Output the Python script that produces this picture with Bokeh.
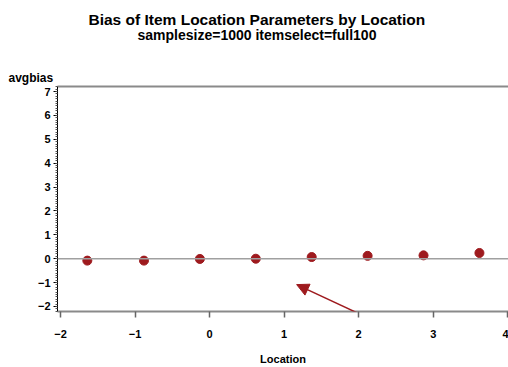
from bokeh.plotting import figure
from bokeh.models import Span, Arrow, NormalHead, FixedTicker, Range1d, Title, LinearAxis
from bokeh.embed import file_html
from bokeh.resources import INLINE

location = [-1.64, -0.88, -0.13, 0.62, 1.37, 2.12, 2.87, 3.62]
avgbias = [-0.08, -0.08, -0.01, 0.0, 0.07, 0.12, 0.14, 0.24]
x_ticks = [-2, -1, 0, 1, 2, 3, 4]
y_ticks = [-2, -1, 0, 1, 2, 3, 4, 5, 6, 7]

title_text = "Bias of Item Location Parameters by Location"
subtitle_text = "samplesize=1000 itemselect=full100"
y_label = "avgbias"
x_label = "Location"

FONT = "Liberation Sans"
RED = "#9e1a1e"

p = figure(width=508, height=367, output_backend="svg", toolbar_location=None,
           x_range=Range1d(-2.04, 4.01), y_range=Range1d(-2.21, 7.21),
           min_border_left=57, min_border_right=0, min_border_top=86, min_border_bottom=55,
           title=None)
p.background_fill_color = "white"
p.border_fill_color = "white"
p.grid.visible = False
p.outline_line_color = None

xa = p.below[0]
ya = p.left[0]

# top border as an axis line
top = LinearAxis(ticker=FixedTicker(ticks=[]), axis_line_color="#8a8a8a", axis_line_width=2,
                 major_tick_line_color=None, minor_tick_line_color=None,
                 major_label_text_font_size="0px", major_label_standoff=0,
                 major_tick_out=0, major_tick_in=0)
p.add_layout(top, "above")

# y axis
ya.ticker = FixedTicker(ticks=y_ticks, minor_ticks=[round(-2.2 + 0.1 * i, 2) for i in range(95)])
ya.axis_line_color = "black"
ya.axis_line_width = 1
ya.major_tick_out = 4
ya.major_tick_in = 0
ya.minor_tick_out = 2
ya.minor_tick_in = 0
ya.major_tick_line_color = "black"
ya.minor_tick_line_color = "#555555"
ya.major_label_text_font = FONT
ya.major_label_text_font_style = "bold"
ya.major_label_text_font_size = "11px"
ya.major_label_text_color = "black"
ya.major_label_standoff = 3

# x axis
xa.ticker = FixedTicker(ticks=x_ticks, minor_ticks=[])
xa.axis_line_color = "#8a8a8a"
xa.axis_line_width = 2
xa.major_tick_out = 6
xa.major_tick_in = 0
xa.major_tick_line_color = "#666666"
xa.major_tick_line_width = 1.5
xa.minor_tick_line_color = None
xa.major_label_text_font = FONT
xa.major_label_text_font_style = "bold"
xa.major_label_text_font_size = "11px"
xa.major_label_text_color = "black"
xa.major_label_standoff = 12
xa.axis_label = x_label
xa.axis_label_text_font = FONT
xa.axis_label_text_font_style = "bold"
xa.axis_label_text_font_size = "11px"
xa.axis_label_text_color = "black"
xa.axis_label_standoff = 12

# titles (first added is closest to the frame)
p.add_layout(Title(text=y_label, align="left", offset=-49, standoff=4, text_font=FONT,
                   text_font_style="bold", text_font_size="12px", text_color="black"), "above")
p.add_layout(Title(text=subtitle_text, align="left", offset=80, standoff=48, text_font=FONT,
                   text_font_style="bold", text_font_size="14px", text_color="black"), "above")
p.add_layout(Title(text=title_text, align="left", offset=31, standoff=-54, text_font=FONT,
                   text_font_style="bold", text_font_size="15.5px", text_color="black"), "above")

# zero reference line
p.add_layout(Span(location=0, dimension="width", line_color="#a0a0a0", line_width=1.5))

# points
p.scatter(location, avgbias, size=9, fill_color=RED, line_color=RED)

# arrow
p.add_layout(Arrow(end=NormalHead(size=12, fill_color=RED, line_color=RED),
                   x_start=3.315, y_start=-4.21, x_end=1.168, y_end=-1.083,
                   line_color=RED, line_width=1.5, level="overlay"))

open("out.html", "w").write(file_html(p, INLINE))
